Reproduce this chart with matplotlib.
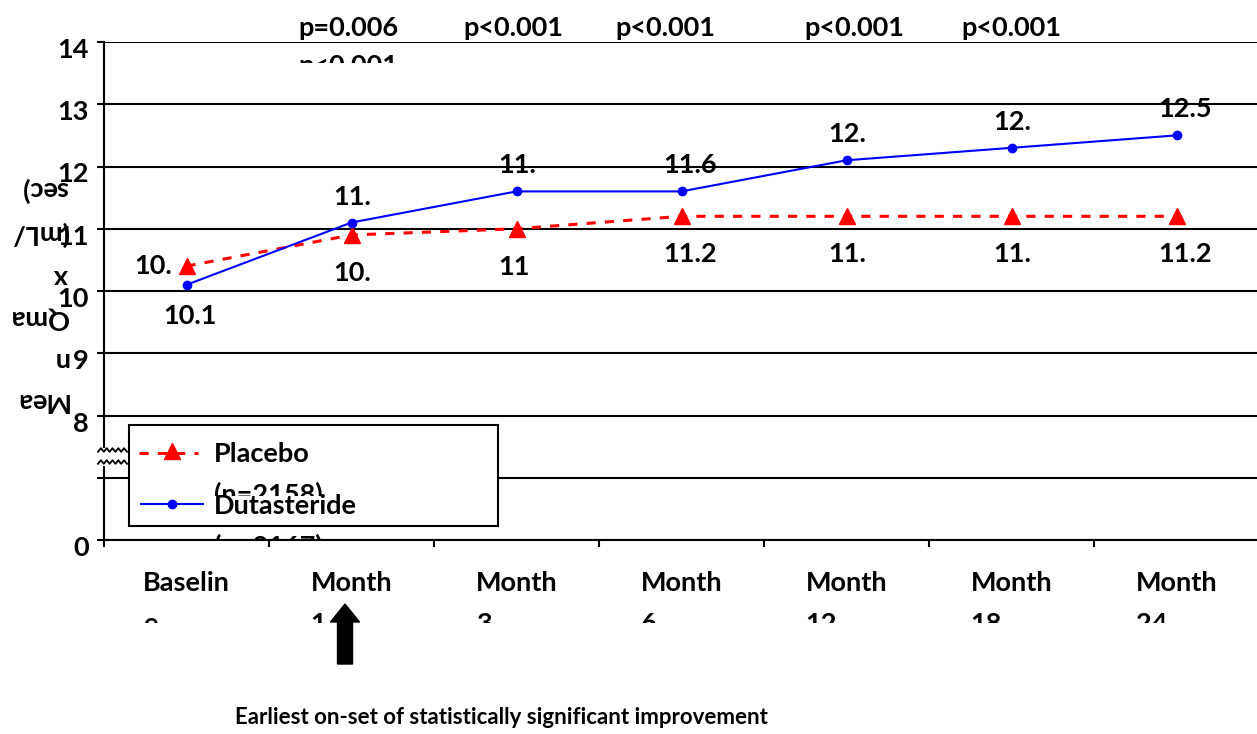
import numpy as np
import matplotlib
matplotlib.use('Agg')
import matplotlib.pyplot as plt
from matplotlib import transforms as mtransforms
from matplotlib.patches import Rectangle, FancyArrow
from matplotlib.lines import Line2D

#%% data
W, H = 1257, 734
cat_labels = ['Baselin\ne', 'Month\n1', 'Month\n3', 'Month\n6', 'Month\n12', 'Month\n18', 'Month\n24']
placebo = [10.4, 10.9, 11.0, 11.2, 11.2, 11.2, 11.2]
dutasteride = [10.1, 11.1, 11.6, 11.6, 12.1, 12.3, 12.5]
placebo_lbl = ['10.', '10.', '11', '11.2', '11.', '11.', '11.2']
dutasteride_lbl = ['10.1', '11.', '11.', '11.6', '12.', '12.', '12.5']
p_cats = [1, 2, 3, 4, 5]
p_text = ['p=0.006\np<0.001', 'p<0.001', 'p<0.001', 'p<0.001', 'p<0.001']
yticks = [0, 7, 8, 9, 10, 11, 12, 13, 14]
ytick_lbl = ['0', '', '8', '9', '10', '11', '12', '13', '14']

FONT = ['Lato', 'DejaVu Sans']
plt.rcParams['font.family'] = FONT
plt.rcParams['font.weight'] = 'bold'
FS = 19.5


# broken y axis: 0..7 squeezed into one step, 7..14 linear
def fwd(v):
    v = np.asarray(v, float)
    return np.where(v >= 7, v - 6, v / 7)


def inv(p):
    p = np.asarray(p, float)
    return np.where(p >= 1, p + 6, p * 7)


fig = plt.figure(figsize=(W / 100, H / 100), dpi=100)
ax = fig.add_axes([104 / W, (H - 540) / H, (1259 - 104) / W, (540 - 42) / H])
# pixel coords measured from top-left of the picture
px = mtransforms.Affine2D().scale(1 / W, -1 / H).translate(0, 1) + fig.transFigure


def clip_to(ybottom):
    return mtransforms.TransformedBbox(mtransforms.Bbox([[0, 0], [W, ybottom]]), px)


ax.set_yscale('function', functions=(fwd, inv))
ax.set_ylim(0, 14)
ax.set_xlim(-0.5, len(cat_labels) - 0.5)
ax.set_yticks(yticks, ytick_lbl)
ax.set_xticks(np.arange(-0.5, len(cat_labels)), [])
ax.tick_params(axis='both', direction='out', length=5, width=1.5, color='black')
ax.tick_params(axis='y', labelsize=FS, pad=6)
ax.grid(axis='y', color='black', lw=1.5)
ax.set_axisbelow(True)
for s in ['top', 'right']:
    ax.spines[s].set_visible(False)
for s in ['left', 'bottom']:
    ax.spines[s].set_linewidth(1.5)
for lab in ax.get_yticklabels():
    lab.set_transform(lab.get_transform() + mtransforms.ScaledTranslation(0, -6 / 100, fig.dpi_scale_trans))

x = np.arange(len(cat_labels))
ax.plot(x, placebo, color='#FF0000', ls=(0, (3, 3)), lw=2.2, marker='^', ms=12, zorder=3)
ax.plot(x, dutasteride, color='#0000FF', lw=1.5, marker='o', ms=6, zorder=4)

# data labels
for i, (v, t) in enumerate(zip(placebo, placebo_lbl)):
    if i == 0:
        ax.annotate(t, (i, v), xytext=(-14, 0), textcoords='offset pixels',
                    ha='right', va='center', fontsize=FS)
    else:
        ax.annotate(t, (i, v), xytext=(-18, -38), textcoords='offset pixels',
                    ha='left', va='center', fontsize=FS)
for i, (v, t) in enumerate(zip(dutasteride, dutasteride_lbl)):
    dy = -31 if i == 0 else 26
    dx = -23 if i == 0 else -18
    ax.annotate(t, (i, v), xytext=(dx, dy), textcoords='offset pixels',
                ha='left', va='center', fontsize=FS)

# category labels (second line cut off like the original)
for i, t in enumerate(cat_labels):
    a = ax.annotate(t, (i, 0), xycoords=('data', 'axes fraction'), xytext=(0, -31),
                    textcoords='offset pixels', ha='center', va='top', multialignment='left',
                    fontsize=FS, linespacing=1.85, annotation_clip=False)
    a.set_clip_box(clip_to(623))
    a.set_clip_on(True)

# p values above the plot
p_dx = [-3, -3, -16, 8, 0]
for c, t, dx in zip(p_cats, p_text, p_dx):
    a = ax.annotate(t, (c, 1), xycoords=('data', 'axes fraction'), xytext=(dx, 26),
                    textcoords='offset pixels', ha='center', va='top', multialignment='left',
                    fontsize=FS, linespacing=1.72, annotation_clip=False)
    a.set_clip_box(clip_to(63))
    a.set_clip_on(True)

# axis break
fig.add_artist(Rectangle((99, 448), 9, 18, transform=px, facecolor='white',
                         edgecolor='none', zorder=5, clip_on=False))
zx = np.linspace(98, 127, 11)
zz = np.tile([1.8, -1.8], 6)[:11]
for y0 in [450, 462]:
    fig.add_artist(Line2D(zx, y0 + zz, transform=px, color='black', lw=1.3, zorder=6, clip_on=False))

# legend
fig.add_artist(Rectangle((129, 425), 369, 101, transform=px, facecolor='white',
                         edgecolor='black', lw=1.5, zorder=5, clip_on=False))
fig.add_artist(Line2D([139, 198], [453, 453], transform=px, color='#FF0000', ls=(0, (3, 3)),
                      lw=2.2, zorder=6, clip_on=False))
fig.add_artist(Line2D([172], [451], transform=px, color='#FF0000', marker='^', ms=12,
                      zorder=7, clip_on=False))
fig.add_artist(Line2D([141, 203], [504, 504], transform=px, color='#0000FF', lw=1.5,
                      zorder=6, clip_on=False))
fig.add_artist(Line2D([172], [504], transform=px, color='#0000FF', marker='o', ms=6,
                      zorder=7, clip_on=False))
t1 = fig.text(214, 442, 'Placebo\n(n=2158)', transform=px, fontsize=FS, va='top',
              linespacing=1.72, zorder=7)
t1.set_clip_box(clip_to(496))
t2 = fig.text(214, 494, 'Dutasteride\n(n=2167)', transform=px, fontsize=FS, va='top',
              linespacing=1.72, zorder=7)
t2.set_clip_box(clip_to(541))

# y axis title, upside down as in the original
fig.text(68, 295, 'Mea\nn\nQma\nx\n(mL/\nsec)', transform=px, rotation=180, ha='right',
         va='center', multialignment='left', fontsize=FS, linespacing=1.88)

# arrow and note
fig.add_artist(FancyArrow(345, 664, 0, -60, width=15, head_width=29, head_length=18,
                          length_includes_head=True, transform=px, color='black', clip_on=False))
fig.text(501, 718, 'Earliest on-set of statistically significant improvement', transform=px,
         ha='center', va='center', fontsize=16)

fig.savefig('out.png', dpi=100)
